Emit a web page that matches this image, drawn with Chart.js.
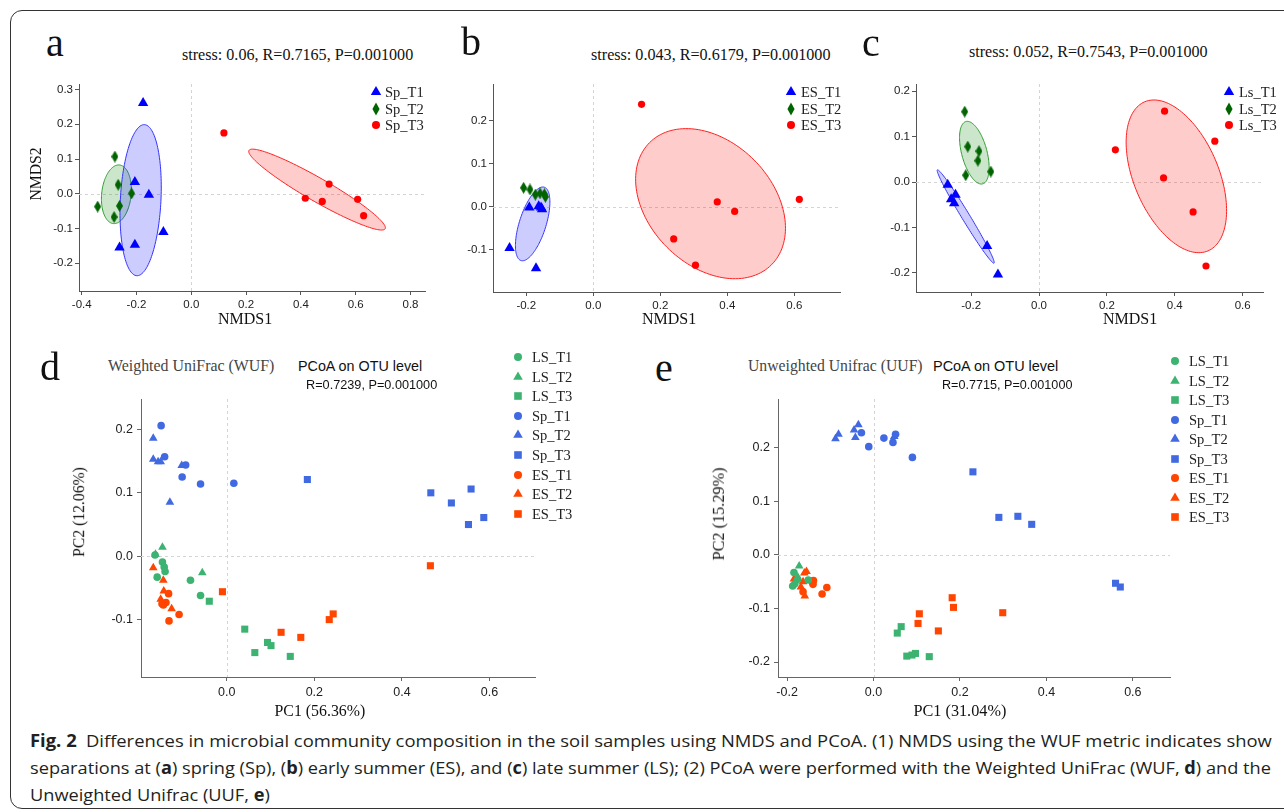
<!DOCTYPE html>
<html>
<head>
<meta charset="utf-8">
<script src="https://cdn.jsdelivr.net/npm/chart.js@4.4.1/dist/chart.umd.min.js"></script>
<style>
  body { margin: 0; background: #fff; width: 1284px; height: 812px; overflow: hidden; position: relative; }
  canvas { position: absolute; }
  .t { position: absolute; white-space: nowrap; line-height: 1; }
  .cap { font-family: "Open Sans", "Noto Sans", sans-serif; font-size: 17px; color: #231f20; transform-origin: 0 50%; }
  #frame { position: absolute; left: 10px; top: 10px; width: 1320px; height: 797px; border: 1px solid #333; border-radius: 12px; }
</style>
</head>
<body>
<div id="frame"></div>
<script>
// ---- panel a: NMDS spring ----
const aT1 = [[-0.176, 0.261], [-0.206, 0.034], [-0.155, -0.003], [-0.102, -0.110], [-0.206, -0.147], [-0.262, -0.155]];
const aT2 = [[-0.279, 0.107], [-0.267, 0.026], [-0.218, 0.001], [-0.262, -0.035], [-0.342, -0.037], [-0.282, -0.067]];
const aT3 = [[0.119, 0.175], [0.503, 0.028], [0.416, -0.013], [0.478, -0.022], [0.607, -0.016], [0.629, -0.063]];
const aXTicks = [-0.4, -0.2, 0, 0.2, 0.4, 0.6, 0.8];
const aYTicks = [-0.2, -0.1, 0, 0.1, 0.2, 0.3];
// ellipses: centre, two conjugate half axes (data units)
const aEll = [
  { c: [-0.2735, -0.0015], u: [0.0085, 0.0845], v: [0.054, 0], g: 'green' },
  { c: [-0.185, -0.0185], u: [0.014, 0.2175], v: [0.074, -0.003], g: 'blue' },
  { c: [0.459, 0.012], u: [0.2485, -0.1128], v: [-0.0212, -0.029], g: 'red' }
];

// ---- panel b: NMDS early summer ----
const bT1 = [[-0.250, -0.096], [-0.191, -0.002], [-0.163, 0.001], [-0.156, -0.002], [-0.153, -0.006], [-0.171, -0.143]];
const bT2 = [[-0.208, 0.044], [-0.189, 0.040], [-0.173, 0.028], [-0.159, 0.031], [-0.146, 0.029], [-0.143, 0.023]];
const bT3 = [[0.144, 0.238], [0.370, 0.011], [0.422, -0.011], [0.240, -0.075], [0.305, -0.136], [0.615, 0.017]];
const bXTicks = [-0.2, 0, 0.2, 0.4, 0.6];
const bYTicks = [-0.1, 0, 0.1, 0.2];
const bEll = [
  { c: [-0.181, -0.040], u: [0.0348, 0.0853], v: [0.0379, -0.0094], g: 'blue' },
  { c: [0.350, 0.007], u: [0.182, -0.142], v: [0.130, 0.1015], g: 'red' }
];

// ---- panel c: NMDS late summer ----
const cT1 = [[-0.269, -0.006], [-0.246, -0.028], [-0.259, -0.038], [-0.250, -0.047], [-0.153, -0.141], [-0.121, -0.204]];
const cT2 = [[-0.219, 0.155], [-0.210, 0.078], [-0.177, 0.068], [-0.180, 0.047], [-0.216, 0.015], [-0.142, 0.023]];
const cT3 = [[0.370, 0.156], [0.518, 0.090], [0.225, 0.071], [0.367, 0.009], [0.454, -0.066], [0.492, -0.185]];
const cXTicks = [-0.2, 0, 0.2, 0.4, 0.6];
const cYTicks = [-0.2, -0.1, 0, 0.1, 0.2];
const cEll = [
  { c: [-0.216, -0.076], u: [0.0835, -0.1028], v: [0.0101, 0.0046], g: 'blue' },
  { c: [-0.1906, 0.0646], u: [0.0246, -0.0687], v: [0.036, 0.0072], g: 'green' },
  { c: [0.4047, 0.0125], u: [0.0933, -0.1642], v: [0.1149, 0.0365], g: 'red' }
];

// ---- panel d: PCoA weighted unifrac ----
const dLS1 = [[-0.164, 0.002], [-0.147, -0.009], [-0.143, -0.017], [-0.141, -0.024], [-0.159, -0.033], [-0.083, -0.038], [-0.060, -0.062]];
const dLS2 = [[-0.147, 0.014], [-0.163, 0.003], [-0.056, -0.026]];
const dLS3 = [[-0.040, -0.071], [0.041, -0.115], [0.064, -0.152], [0.093, -0.136], [0.101, -0.141], [0.145, -0.158]];
const dSp1 = [[-0.150, 0.206], [-0.142, 0.157], [-0.094, 0.144], [-0.102, 0.125], [-0.060, 0.114], [0.016, 0.115]];
const dSp2 = [[-0.168, 0.186], [-0.168, 0.153], [-0.157, 0.149], [-0.151, 0.149], [-0.103, 0.143], [-0.130, 0.085]];
const dSp3 = [[0.184, 0.121], [0.466, 0.100], [0.513, 0.084], [0.558, 0.106], [0.552, 0.050], [0.587, 0.061]];
const dES1 = [[-0.133, -0.059], [-0.148, -0.075], [-0.145, -0.077], [-0.139, -0.073], [-0.109, -0.092], [-0.132, -0.102]];
const dES2 = [[-0.168, -0.018], [-0.145, -0.038], [-0.144, -0.055], [-0.151, -0.068], [-0.126, -0.083]];
const dES3 = [[-0.010, -0.056], [0.465, -0.015], [0.124, -0.120], [0.169, -0.128], [0.234, -0.100], [0.243, -0.091]];
const dXTicks = [0, 0.2, 0.4, 0.6];
const dYTicks = [-0.1, 0, 0.1, 0.2];

// ---- panel e: PCoA unweighted unifrac ----
const eLS1 = [[-0.184, -0.033], [-0.187, -0.058], [-0.182, -0.054], [-0.151, -0.047], [-0.176, -0.046]];
const eLS2 = [[-0.172, -0.021], [-0.175, -0.042]];
const eLS3 = [[0.055, -0.146], [0.064, -0.134], [0.077, -0.189], [0.089, -0.187], [0.097, -0.184], [0.129, -0.190]];
const eSp1 = [[-0.028, 0.228], [-0.011, 0.202], [0.024, 0.218], [0.051, 0.225], [0.045, 0.210], [0.090, 0.182]];
const eSp2 = [[-0.088, 0.217], [-0.081, 0.225], [-0.045, 0.233], [-0.035, 0.243], [-0.042, 0.219], [0.048, 0.221]];
const eSp3 = [[0.230, 0.155], [0.290, 0.070], [0.334, 0.072], [0.366, 0.057], [0.560, -0.053], [0.571, -0.060]];
const eES1 = [[-0.139, -0.048], [-0.140, -0.055], [-0.108, -0.061], [-0.119, -0.073], [-0.163, -0.069], [-0.141, -0.051]];
const eES2 = [[-0.184, -0.045], [-0.160, -0.034], [-0.163, -0.050], [-0.168, -0.060], [-0.159, -0.077], [-0.155, -0.031]];
const eES3 = [[0.182, -0.080], [0.185, -0.098], [0.106, -0.110], [0.103, -0.128], [0.150, -0.142], [0.299, -0.108]];
const eXTicks = [-0.2, 0, 0.2, 0.4, 0.6];
const eYTicks = [-0.2, -0.1, 0, 0.1, 0.2];

const SERIF = '"Liberation Serif","Times New Roman",serif';
const SANS = '"Liberation Sans",Arial,sans-serif';
const BLUE = '#0000ff', DGREEN = '#006400', RED = '#ff0000';
const LSG = '#3cb371', SPB = '#4169e1', ESR = '#ff4500';
const ELL = {
  blue: { fill: 'rgba(0,0,255,0.2)', line: '#3333ff' },
  green: { fill: 'rgba(0,128,0,0.2)', line: '#2e9a2e' },
  red: { fill: 'rgba(255,0,0,0.2)', line: '#ff2020' }
};

function diamond(color) {
  const c = document.createElement('canvas');
  c.width = 7; c.height = 12;
  const g = c.getContext('2d');
  g.fillStyle = color;
  g.beginPath();
  g.moveTo(3.5, 0); g.lineTo(7, 6); g.lineTo(3.5, 12); g.lineTo(0, 6);
  g.closePath(); g.fill();
  return c;
}

function ds(pts, style, color, r) {
  return {
    data: pts.map(p => ({ x: p[0], y: p[1] })),
    pointStyle: style, pointRadius: r, backgroundColor: color,
    borderColor: color, borderWidth: 0
  };
}

function extras(ells) {
  return {
    id: 'extras',
    beforeDatasetsDraw(chart) {
      const { ctx, chartArea: a, scales: { x, y } } = chart;
      ctx.save();
      ctx.strokeStyle = '#d4d4d4';
      ctx.lineWidth = 1;
      ctx.setLineDash([3, 3]);
      const x0 = Math.round(x.getPixelForValue(0)) + 0.5;
      const y0 = Math.round(y.getPixelForValue(0)) + 0.5;
      ctx.beginPath();
      ctx.moveTo(x0, a.top); ctx.lineTo(x0, a.bottom);
      ctx.moveTo(a.left, y0); ctx.lineTo(a.right, y0);
      ctx.stroke();
      ctx.setLineDash([]);
      ells.forEach(e => {
        ctx.beginPath();
        for (let k = 0; k <= 144; k++) {
          const th = k / 144 * Math.PI * 2;
          const px = x.getPixelForValue(e.c[0] + e.u[0] * Math.cos(th) + e.v[0] * Math.sin(th));
          const py = y.getPixelForValue(e.c[1] + e.u[1] * Math.cos(th) + e.v[1] * Math.sin(th));
          if (k) ctx.lineTo(px, py); else ctx.moveTo(px, py);
        }
        ctx.closePath();
        ctx.fillStyle = ELL[e.g].fill;
        ctx.fill();
        ctx.strokeStyle = ELL[e.g].line;
        ctx.stroke();
      });
      ctx.restore();
    }
  };
}

const PL = 60, PT = 12, PR = 12, PB = 30;

function panel(box, xr, yr, xt, yt, sets, ells, st) {
  const [l, t, r, b] = box;
  const cv = document.createElement('canvas');
  const W = r - l + PL + PR, H = b - t + PT + PB;
  cv.width = W; cv.height = H;
  cv.style.left = (l - PL) + 'px';
  cv.style.top = (t - PT) + 'px';
  cv.style.width = W + 'px';
  cv.style.height = H + 'px';
  document.body.appendChild(cv);
  const axis = (min, max, ticks, isX) => ({
    type: 'linear', min, max,
    afterBuildTicks: s => { s.ticks = ticks.map(v => ({ value: v })); },
    afterFit: s => { if (isX) s.height = PB; else s.width = PL; },
    border: { display: true, color: st.axis, width: 1 },
    grid: { display: true, drawOnChartArea: false, drawTicks: true, tickLength: 4, tickColor: st.axis, tickWidth: 1 },
    ticks: {
      autoSkip: false, maxRotation: 0, padding: isX ? st.px : st.py, color: '#222',
      font: { family: SANS, size: st.fs }, callback: v => Number(v).toFixed(1)
    }
  });
  new Chart(cv, {
    type: 'scatter',
    data: { datasets: sets },
    options: {
      responsive: false, animation: false, events: [], devicePixelRatio: 1,
      layout: { padding: { left: 0, top: PT, right: PR, bottom: 0 }, autoPadding: false },
      plugins: { legend: { display: false }, tooltip: { enabled: false } },
      scales: { x: axis(xr[0], xr[1], xt, true), y: axis(yr[0], yr[1], yt, false) }
    },
    plugins: [extras(ells)]
  });
}

const stNm = { axis: '#555', fs: 11.5, px: 3, py: 2 };
const stPc = { axis: '#666', fs: 12.5, px: 4, py: 4 };

panel([79, 84, 425, 291], [-0.410, 0.853], [-0.280, 0.316], aXTicks, aYTicks,
  [ds(aT1, 'triangle', BLUE, 6), ds(aT2, diamond(DGREEN), DGREEN, 5), ds(aT3, 'circle', RED, 3.6)], aEll, stNm);
panel([493, 84, 840, 292], [-0.2994, 0.7364], [-0.1984, 0.2853], bXTicks, bYTicks,
  [ds(bT1, 'triangle', BLUE, 6), ds(bT2, diamond(DGREEN), DGREEN, 5), ds(bT3, 'circle', RED, 3.6)], bEll, stNm);
panel([916, 84, 1263, 292], [-0.3625, 0.660], [-0.2423, 0.2159], cXTicks, cYTicks,
  [ds(cT1, 'triangle', BLUE, 6), ds(cT2, diamond(DGREEN), DGREEN, 5), ds(cT3, 'circle', RED, 3.6)], cEll, stNm);
panel([141, 399, 535, 677], [-0.196, 0.704], [-0.1905, 0.248], dXTicks, dYTicks,
  [ds(dLS1, 'circle', LSG, 3.8), ds(dLS2, 'triangle', LSG, 5), ds(dLS3, 'rect', LSG, 5),
   ds(dSp1, 'circle', SPB, 3.8), ds(dSp2, 'triangle', SPB, 5), ds(dSp3, 'rect', SPB, 5),
   ds(dES1, 'circle', ESR, 3.8), ds(dES2, 'triangle', ESR, 5), ds(dES3, 'rect', ESR, 5)], [], stPc);
panel([778, 399, 1170, 677], [-0.221, 0.686], [-0.228, 0.291], eXTicks, eYTicks,
  [ds(eLS1, 'circle', LSG, 3.8), ds(eLS2, 'triangle', LSG, 5), ds(eLS3, 'rect', LSG, 5),
   ds(eSp1, 'circle', SPB, 3.8), ds(eSp2, 'triangle', SPB, 5), ds(eSp3, 'rect', SPB, 5),
   ds(eES1, 'circle', ESR, 3.8), ds(eES2, 'triangle', ESR, 5), ds(eES3, 'rect', ESR, 5)], [], stPc);

// ---- texts ----
function txt(s, x, y, o) {
  o = o || {};
  const el = document.createElement('div');
  el.className = 't';
  el.textContent = s;
  el.style.fontFamily = o.font || SERIF;
  el.style.fontSize = (o.size || 14) + 'px';
  el.style.color = o.color || '#111';
  document.body.appendChild(el);
  if (o.w) el.style.fontSize = ((o.size || 14) * o.w / el.offsetWidth) + 'px';
  const w = el.offsetWidth;
  el.style.top = y + 'px';
  if (o.rot) {
    el.style.left = x + 'px';
    el.style.transform = 'translate(-50%,-50%) rotate(-90deg)';
  } else {
    el.style.left = (o.center ? x - w / 2 : x) + 'px';
    el.style.transform = 'translateY(-50%)';
  }
  return el;
}

function mark(shape, color, cx, cy, sz) {
  const NS = 'http://www.w3.org/2000/svg';
  const svg = document.createElementNS(NS, 'svg');
  svg.setAttribute('width', 18); svg.setAttribute('height', 18);
  svg.style.position = 'absolute';
  svg.style.left = (cx - 9) + 'px';
  svg.style.top = (cy - 9) + 'px';
  let p;
  if (shape === 'circle') {
    p = document.createElementNS(NS, 'circle');
    p.setAttribute('cx', 9); p.setAttribute('cy', 9); p.setAttribute('r', sz);
  } else if (shape === 'rect') {
    p = document.createElementNS(NS, 'rect');
    p.setAttribute('x', 9 - sz); p.setAttribute('y', 9 - sz);
    p.setAttribute('width', 2 * sz); p.setAttribute('height', 2 * sz);
  } else {
    p = document.createElementNS(NS, 'polygon');
    const pts = shape === 'triangle'
      ? [[9, 9 - sz], [9 + sz * 0.87, 9 + sz * 0.5], [9 - sz * 0.87, 9 + sz * 0.5]]
      : [[9, 9 - sz], [9 + sz * 0.55, 9], [9, 9 + sz], [9 - sz * 0.55, 9]];
    p.setAttribute('points', pts.map(q => q.join(',')).join(' '));
  }
  p.setAttribute('fill', color);
  svg.appendChild(p);
  document.body.appendChild(svg);
}

function legend(mx, tx, y0, dy, items, size) {
  items.forEach((it, i) => {
    mark(it[1], it[2], mx, y0 + i * dy, it[3]);
    txt(it[0], tx, y0 + i * dy, { size: size, color: '#222' });
  });
}

const nmLeg = pre => [
  [pre + '_T1', 'triangle', BLUE, 6], [pre + '_T2', 'diamond', DGREEN, 6.5], [pre + '_T3', 'circle', RED, 4]
];
const pcLeg = [
  ['LS_T1', 'circle', LSG, 4], ['LS_T2', 'triangle', LSG, 5.5], ['LS_T3', 'rect', LSG, 3.8],
  ['Sp_T1', 'circle', SPB, 4], ['Sp_T2', 'triangle', SPB, 5.5], ['Sp_T3', 'rect', SPB, 3.8],
  ['ES_T1', 'circle', ESR, 4], ['ES_T2', 'triangle', ESR, 5.5], ['ES_T3', 'rect', ESR, 3.8]
];

txt('a', 46, 43, { size: 40 });
txt('stress: 0.06, R=0.7165, P=0.001000', 182, 55, { size: 15, w: 231 });
txt('NMDS2', 36, 174, { size: 16, w: 53, rot: true });
txt('NMDS1', 245, 319, { size: 16, w: 54, center: true });
legend(376, 385, 92, 16.5, nmLeg('Sp'), 14.5);

txt('b', 461, 42, { size: 40 });
txt('stress: 0.043, R=0.6179, P=0.001000', 591, 55, { size: 15, w: 240 });
txt('NMDS1', 669, 319, { size: 16, w: 54, center: true });
legend(791, 801, 92, 16.5, nmLeg('ES'), 14.5);

txt('c', 862, 43, { size: 40 });
txt('stress: 0.052, R=0.7543, P=0.001000', 969, 52, { size: 15, w: 239 });
txt('NMDS1', 1130, 319, { size: 16, w: 54, center: true });
legend(1229, 1239, 92, 16.5, nmLeg('Ls'), 14.5);

txt('d', 40, 367, { size: 40 });
txt('Weighted UniFrac (WUF)', 108, 366, { size: 16, w: 167, color: '#444' });
txt('PCoA on OTU level', 298, 366, { font: SANS, size: 14, w: 124 });
txt('R=0.7239, P=0.001000', 306, 385, { font: SANS, size: 13, w: 131 });
txt('PC2 (12.06%)', 79, 512, { size: 15, w: 90, rot: true });
txt('PC1 (56.36%)', 320, 711, { size: 15, w: 91, center: true });
legend(518, 532, 357, 19.6, pcLeg, 14.5);

txt('e', 655, 368, { size: 40 });
txt('Unweighted Unifrac (UUF)', 748, 366, { size: 16, w: 175, color: '#444' });
txt('PCoA on OTU level', 933, 366, { font: SANS, size: 14, w: 125 });
txt('R=0.7715, P=0.001000', 942, 385, { font: SANS, size: 13, w: 130 });
txt('PC2 (15.29%)', 719, 514, { size: 15, w: 93, rot: true });
txt('PC1 (31.04%)', 960, 711, { size: 15, w: 93, center: true });
legend(1175, 1189, 361, 19.5, pcLeg, 14.5);

// ---- caption ----
const capLines = [
  '<b>Fig. 2</b>&ensp;Differences in microbial community composition in the soil samples using NMDS and PCoA. (1) NMDS using the WUF metric indicates show',
  'separations at (<b>a</b>) spring (Sp), (<b>b</b>) early summer (ES), and (<b>c</b>) late summer (LS); (2) PCoA were performed with the Weighted UniFrac (WUF, <b>d</b>) and the',
  'Unweighted Unifrac (UUF, <b>e</b>)'
];
const capY = [740, 767, 794];
const capW = [1242, 1241, 0];
let lastScale = 1;
capLines.forEach((h, i) => {
  const el = document.createElement('div');
  el.className = 't cap';
  el.innerHTML = h;
  document.body.appendChild(el);
  const s = capW[i] ? capW[i] / el.offsetWidth : lastScale;
  lastScale = s;
  el.style.left = '30px';
  el.style.top = capY[i] + 'px';
  el.style.transform = 'translateY(-50%) scaleX(' + s + ')';
});
</script>
</body>
</html>
